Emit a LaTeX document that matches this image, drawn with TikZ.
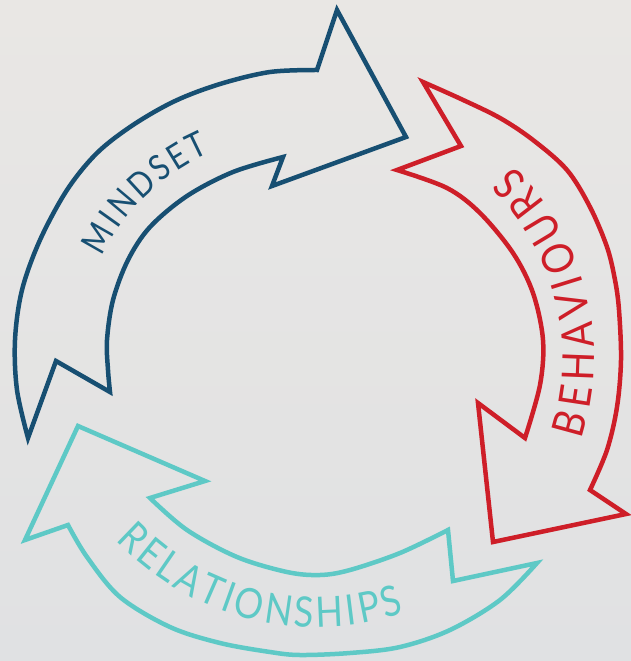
\documentclass[tikz,border=0pt]{standalone}
\usepackage{fontspec}
\setmainfont{Lato}
\newfontfamily\lbl{Lato}[FakeStretch=0.86]
\usetikzlibrary{decorations.text}
\definecolor{cblue}{RGB}{23,79,114}
\definecolor{cred}{RGB}{206,30,40}
\definecolor{ccyan}{RGB}{94,201,198}
\definecolor{bgtop}{RGB}{233,231,228}
\definecolor{bgbot}{RGB}{224,225,227}
\newcommand\mindfont{\lbl\fontsize{35pt}{35pt}\selectfont}
\newcommand\behfont{\lbl\fontsize{44pt}{44pt}\selectfont}
\newcommand\relfont{\lbl\fontsize{42pt}{42pt}\selectfont}
\begin{document}
\begin{tikzpicture}[x=1pt,y=-1pt,
  arrowband/.style={line width=4.5pt, line join=miter},
  curve/.style={smooth, tension=0.55}]
\shade[top color=bgtop, bottom color=bgbot] (0,0) rectangle (631,661);
\path[use as bounding box] (0,0) rectangle (631,661);

% MINDSET arrow (blue)
\draw[arrowband, cblue] (337,10) -- (406,137) -- (272,186)
  -- plot[curve] coordinates {(283,157) (233,172) (187,196) (150,227) (128,260) (113,300) (107,340) (108,370) (110,392)}
  -- (56,361)
  -- plot[curve] coordinates {(28,438) (17,390) (15,340) (22,290) (40,240) (67,190) (97,153) (133,125) (175,101) (220,84) (270,72) (317,70)}
  -- cycle;

% BEHAVIOURS arrow (red)
\draw[arrowband, cred] (493,542) -- (626,514)
  -- plot[curve] coordinates {(590,490) (607,450) (617,407) (621,360) (619,310) (615,280) (607,247) (590,207) (567,170) (533,140) (500,118) (461,99) (423,82)}
  -- (461,146)
  -- plot[curve] coordinates {(397,170) (447,188) (480,213) (513,253) (533,293) (543,340) (540,385) (525,438)}
  -- (478,403) -- cycle;

% RELATIONSHIPS arrow (cyan)
\draw[arrowband, ccyan] (78,426) -- (205,481)
  -- plot[curve] coordinates {(150,498) (187,530) (237,557) (287,572) (320,575) (350,570) (400,553) (448,530)}
  -- (453,581)
  -- plot[curve] coordinates {(537,563) (500,600) (450,630) (400,647) (350,653) (300,655) (270,652) (220,643) (170,627) (120,597) (87,557) (68,525)}
  -- (25,540) -- cycle;

% texts along the bands
\path[decorate, decoration={text along path, text align={fit to path}, text color=cblue,
    text={|\mindfont|MINDSET}}]
  plot[domain=-154:-113.5, samples=60] ({296+216*cos(\x)}, {351+216*sin(\x)});
\path[decorate, decoration={text along path, text align={fit to path}, text color=cred,
    text={|\behfont|BEHAVIOURS}}]
  plot[domain=18:-46, samples=80] ({328+266*cos(\x)}, {357+266*sin(\x)});
\path[decorate, decoration={text along path, text align={fit to path}, text color=ccyan,
    text={|\relfont|RELATIONSHIPS}}]
  plot[domain=136.5:71.6, samples=90] ({317+277*cos(\x)}, {350+277*sin(\x)});
\end{tikzpicture}
\end{document}
